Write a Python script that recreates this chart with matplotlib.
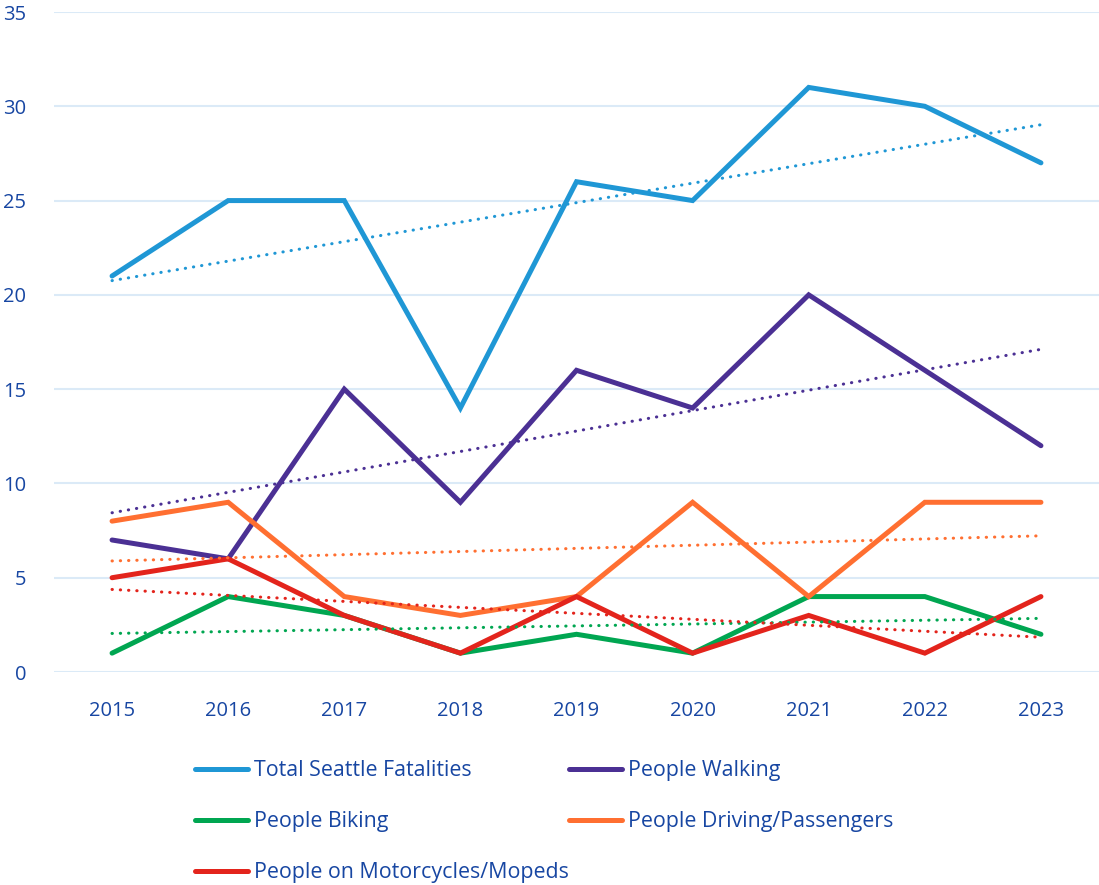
import numpy as np
import matplotlib
matplotlib.use("Agg")
import matplotlib.pyplot as plt

years = ["2015", "2016", "2017", "2018", "2019", "2020", "2021", "2022", "2023"]
total = [21, 25, 25, 14, 26, 25, 31, 30, 27]
walking = [7, 6, 15, 9, 16, 14, 20, 16, 12]
biking = [1, 4, 3, 1, 2, 1, 4, 4, 2]
driving = [8, 9, 4, 3, 4, 9, 4, 9, 9]
moto = [5, 6, 3, 1, 4, 1, 3, 1, 4]

labels = ["Total Seattle Fatalities", "People Walking", "People Biking",
          "People Driving/Passengers", "People on Motorcycles/Mopeds"]
colors = ["#1f97d5", "#4b3094", "#00a651", "#ff6f31", "#e3241c"]
series = [total, walking, biking, driving, moto]

text_color = "#1746a2"
plt.rcParams['font.family'] = ['Open Sans', 'DejaVu Sans']
plt.rcParams['font.size'] = 14.5

fig = plt.figure(figsize=(10.99, 8.85), dpi=100)
ax = fig.add_axes([54 / 1099, 1 - 672 / 885, 1 - 54 / 1099, (672 - 12) / 885])

x = np.arange(len(years))
handles = []
for vals, col, lab in zip(series, colors, labels):
    h, = ax.plot(x, vals, color=col, lw=3.6, solid_capstyle='round',
                 solid_joinstyle='miter', label=lab, zorder=3)
    handles.append(h)

# linear trendlines, dotted
for vals, col in zip(series, colors):
    k, b = np.polyfit(x, vals, 1)
    ax.plot(x, k * x + b, color=col, lw=2.2, linestyle=(0, (0.1, 2.6)),
            dash_capstyle='round', zorder=4)

ax.set_xlim(-0.5, len(years) - 0.5)
ax.set_ylim(0, 35)
ax.set_yticks(range(0, 36, 5))
ax.set_xticks(x)
ax.set_xticklabels(years)
ax.grid(axis='y', color="#dbeaf7", lw=1.5, zorder=0)
ax.set_axisbelow(True)
for s in ax.spines.values():
    s.set_visible(False)
ax.tick_params(axis='both', length=0, colors=text_color, labelsize=14.5)
ax.tick_params(axis='y', pad=20)
ax.tick_params(axis='x', pad=21)

order = [0, 2, 4, 1, 3]
leg = fig.legend([handles[i] for i in order], [labels[i] for i in order],
                 ncol=2, loc='upper left',
                 bbox_to_anchor=(195 / 1099, 1 - 760 / 885),
                 frameon=False, borderpad=0, borderaxespad=0,
                 handlelength=2.47, handletextpad=0.28, labelspacing=1.41,
                 columnspacing=0.0, fontsize=15.4)
for t in leg.get_texts():
    t.set_color(text_color)

fig.savefig("out.png", dpi=100)
